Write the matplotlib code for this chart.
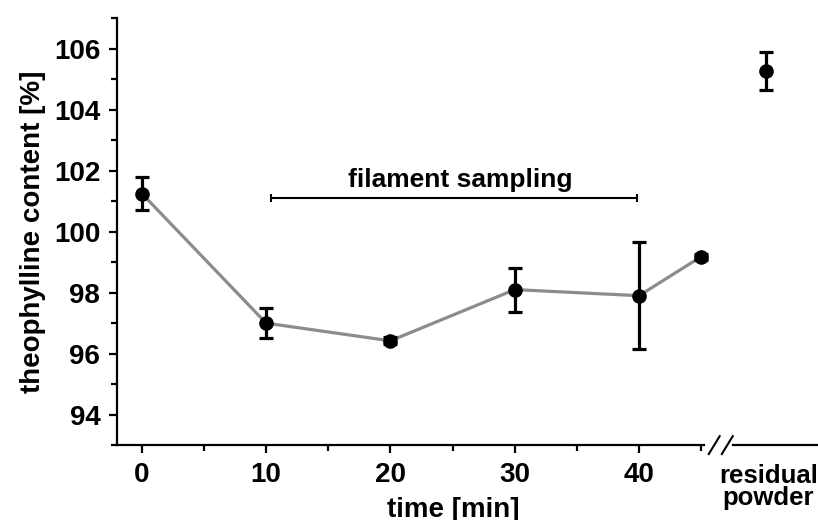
import matplotlib
matplotlib.use("Agg")
import matplotlib.pyplot as plt
import matplotlib.transforms as mtransforms

plt.rcParams['font.family'] = ['Liberation Sans', 'DejaVu Sans']
plt.rcParams['font.weight'] = 'bold'

# data
time_min = [0, 10, 20, 30, 40, 45]
content = [101.25, 97.0, 96.42, 98.1, 97.9, 99.18]
content_err = [0.55, 0.49, 0.12, 0.72, 1.75, 0.1]
residual_x = [50.2]
residual_val = [105.26]
residual_err = [0.62]
xticks_major = [0, 10, 20, 30, 40]
xticks_minor = [5, 15, 25, 35, 45]
yticks_major = [94, 96, 98, 100, 102, 104, 106]
yticks_minor = [93, 95, 97, 99, 101, 103, 105, 107]
sampling_range = [10.4, 39.8]
sampling_level = 101.1

fig = plt.figure(figsize=(8.18, 5.2), dpi=100)
ax = fig.add_axes([0.143, 0.144, 0.857, 0.821])

xmin, xmax = -2.0, 54.4
ax.set_xlim(xmin, xmax)
ax.set_ylim(93, 107)

ax.plot(time_min, content, color='#8c8c8c', lw=2.3, zorder=2)
ax.errorbar(time_min, content, yerr=content_err, fmt='o', color='black',
            ms=9.5, elinewidth=2.3, capsize=5, capthick=2.3, zorder=3)
ax.errorbar(residual_x, residual_val, yerr=residual_err, fmt='o', color='black',
            ms=9.5, elinewidth=2.3, capsize=5, capthick=2.3, zorder=3)

# filament sampling bracket
mid = sum(sampling_range) / 2
ax.errorbar([mid], [sampling_level],
            xerr=[[mid - sampling_range[0]], [sampling_range[1] - mid]],
            fmt='none', ecolor='black', elinewidth=1.5, capsize=3, capthick=1.5)
ax.text(25.6, sampling_level + 0.2, 'filament sampling', ha='center', va='bottom',
        fontsize=19, fontweight='bold')

# spines
for s in ['top', 'right']:
    ax.spines[s].set_visible(False)
ax.spines['left'].set_linewidth(1.6)
ax.spines['bottom'].set_linewidth(1.6)
ax.spines['bottom'].set_bounds(xmin, 45.2)
trans = mtransforms.blended_transform_factory(ax.transData, ax.transAxes)
ax.plot([47.6, xmax], [0, 0], color='black', lw=1.6, transform=trans, clip_on=False)
# break marks
for bx in [46.05, 47.1]:
    ax.plot([bx - 0.44, bx + 0.44], [-0.021, 0.021], color='black', lw=1.5,
            transform=trans, clip_on=False)

ax.set_xticks(xticks_major)
ax.set_xticks(xticks_minor, minor=True)
ax.set_yticks(yticks_major)
ax.set_yticks(yticks_minor, minor=True)
ax.tick_params(axis='both', which='major', direction='out', length=6, width=1.6,
               labelsize=20, pad=6)
ax.tick_params(axis='both', which='minor', direction='out', length=4, width=1.6)
for lab in ax.get_xticklabels() + ax.get_yticklabels():
    lab.set_fontweight('bold')

ax.text(residual_x[0] + 0.2, -0.045, 'residual\npowder', transform=trans, ha='center', va='top',
        fontsize=18.5, fontweight='bold', linespacing=0.9)

ax.set_xlabel('time [min]', fontsize=20, fontweight='bold')
ax.xaxis.set_label_coords(0.479, -0.122)
ax.set_ylabel('theophylline content [%]', fontsize=20, fontweight='bold', labelpad=6)

fig.savefig('out.png', dpi=100)
